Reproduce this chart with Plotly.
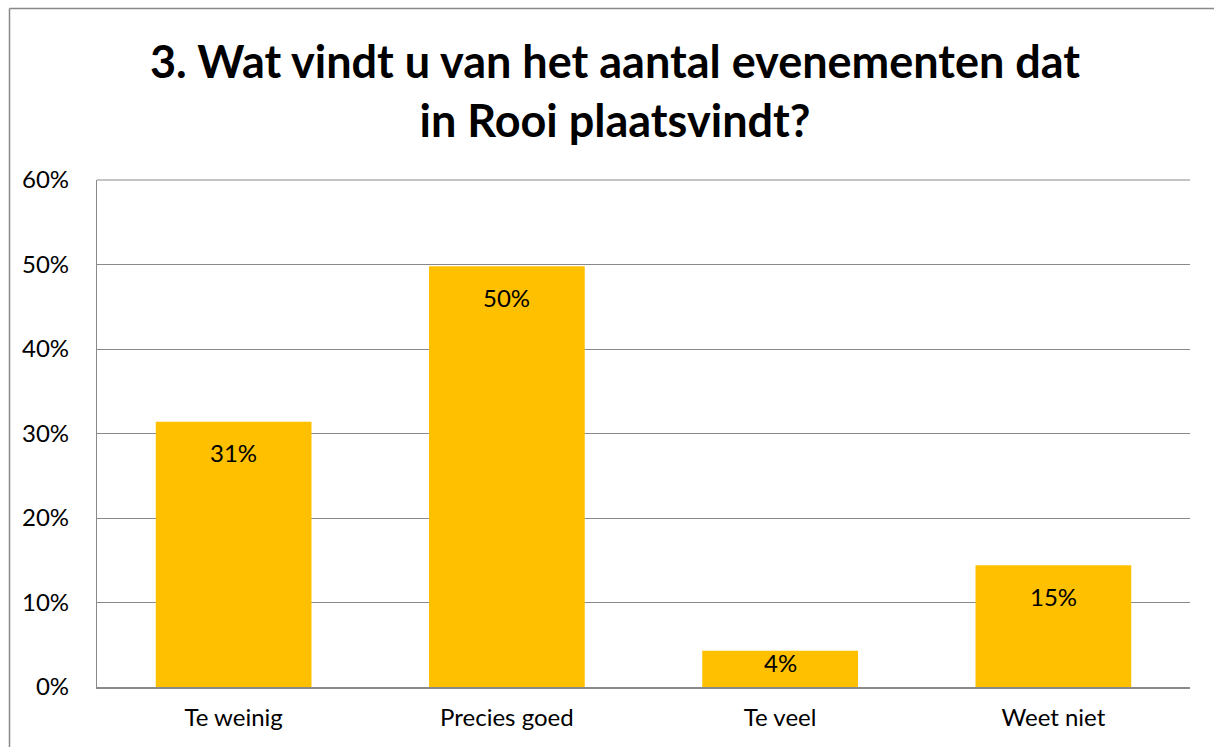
import plotly.graph_objects as go

categories = ["Te weinig", "Precies goed", "Te veel", "Weet niet"]
values = [0.314, 0.498, 0.043, 0.144]
labels = ["31%", "50%", "4%", "15%"]
tick_vals = [0, 0.1, 0.2, 0.3, 0.4, 0.5, 0.6]
tick_text = ["0%", "10%", "20%", "30%", "40%", "50%", "60%"]

FONT = "Lato"
W, H = 1214, 747
L, R, T, B = 97, 24, 180, 60
PW, PH = W - L - R, H - T - B
YMAX = 0.6

fig = go.Figure()
fig.add_trace(go.Bar(
    x=categories, y=values,
    marker=dict(color="#FFC000", line=dict(width=0)),
    width=0.57, hoverinfo="x+y",
))

annotations = []
for c, v, t in zip(categories, values, labels):
    bar_px = v / YMAX * PH
    shift = min(31, max(bar_px - 25, 11))
    annotations.append(dict(
        x=c, y=v, xref="x", yref="y", text=t, showarrow=False,
        yshift=-shift, yanchor="middle", xanchor="center",
        font=dict(family=FONT, size=24, color="black")))

border = dict(color="#898989", width=1.5)
x_left = (9.5 - L) / PW
y_top = (T + PH - 8.5) / PH

fig.update_layout(
    width=W, height=H,
    margin=dict(l=L, r=R, t=T, b=B),
    paper_bgcolor="white", plot_bgcolor="white",
    showlegend=False,
    font=dict(family=FONT, size=24, color="black"),
    title=dict(
        text="<b>3. Wat vindt u van het aantal evenementen dat<br>in Rooi plaatsvindt?</b>",
        x=615 / W, xanchor="center", yref="container",
        y=1 - 78.2 / H, yanchor="top",
        font=dict(family=FONT, size=45, color="black"),
    ),
    xaxis=dict(showline=True, linecolor="#898989", linewidth=1.5,
               ticks="outside", ticklen=8, tickcolor="rgba(0,0,0,0)",
               tickfont=dict(size=24), showgrid=False),
    yaxis=dict(range=[0, YMAX], tickvals=tick_vals, ticktext=tick_text,
               showgrid=True, gridcolor="#898989", gridwidth=1.2,
               showline=True, linecolor="#898989", linewidth=1.2,
               ticks="outside", ticklen=22, tickcolor="rgba(0,0,0,0)",
               tickfont=dict(size=24), zeroline=False),
    annotations=annotations,
    shapes=[
        dict(type="line", xref="paper", yref="paper",
             x0=x_left, x1=x_left, y0=-0.3, y1=y_top, line=border),
        dict(type="line", xref="paper", yref="paper",
             x0=x_left, x1=1.2, y0=y_top, y1=y_top, line=border),
        dict(type="line", xref="paper", yref="paper", x0=0, x1=1, y0=1, y1=1,
             line=dict(color="#898989", width=1.2)),
    ],
)

fig.write_html(
    "out.html",
    config={"displayModeBar": False},
    post_script="document.body.style.margin='0';document.body.style.overflow='hidden';",
)
